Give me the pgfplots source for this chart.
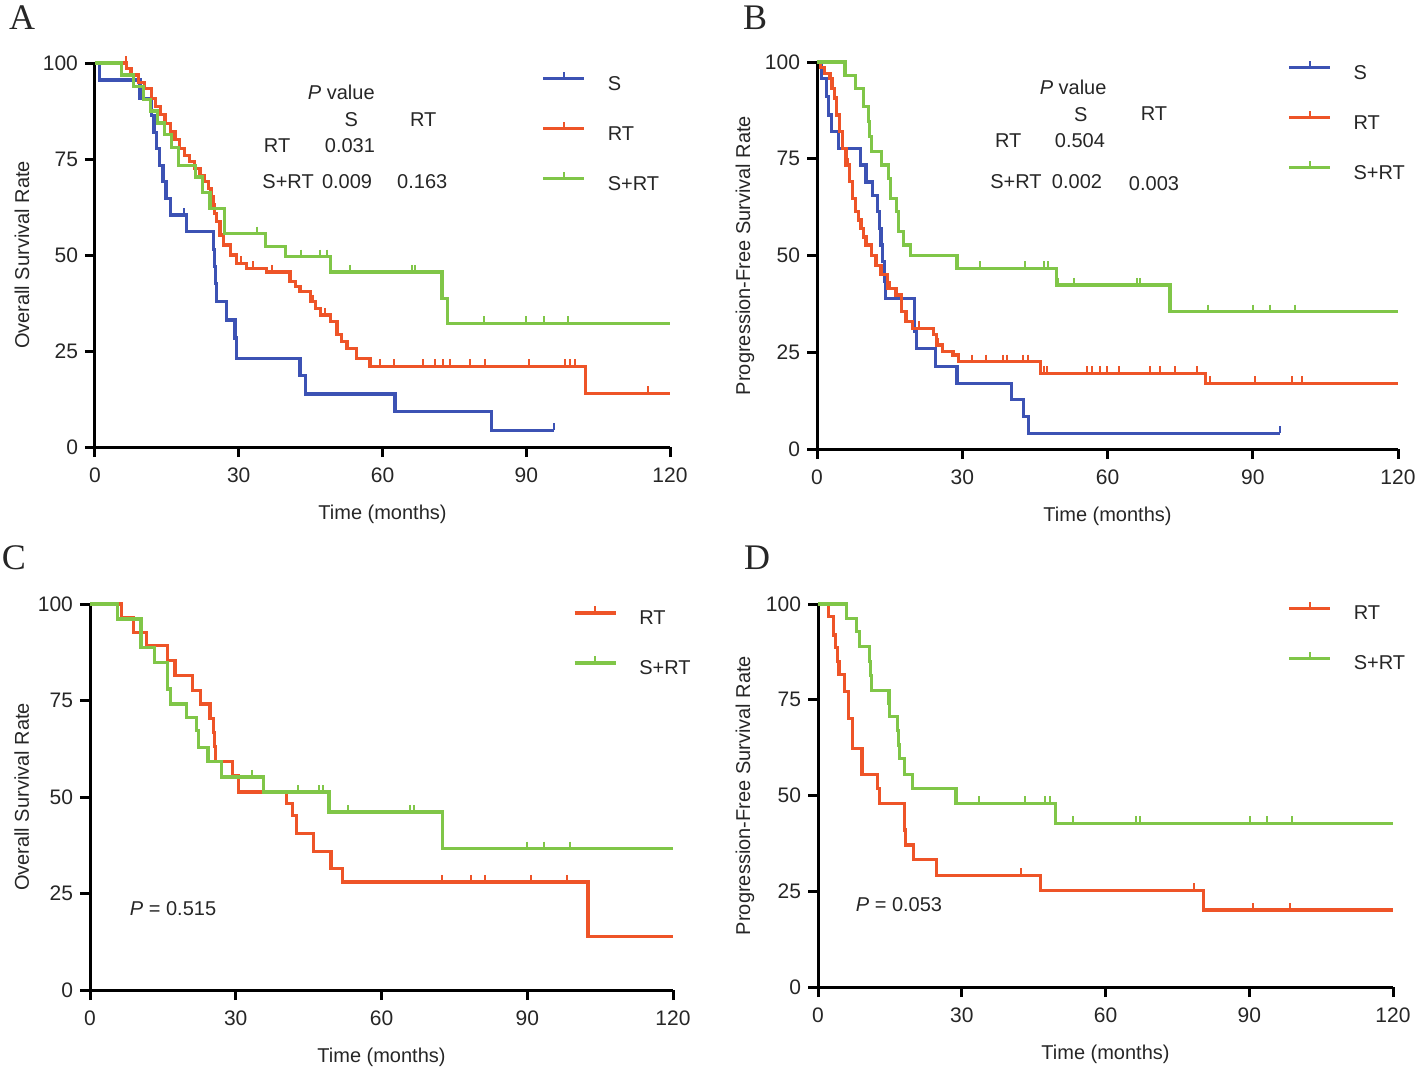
\documentclass[border=0pt]{standalone}
\usepackage{fontspec}
\setmainfont{Liberation Sans}
\newfontfamily\lettfont{Liberation Serif}
\usepackage{pgfplots}
\pgfplotsset{compat=1.18}
\definecolor{kmblue}{RGB}{60,82,180}
\definecolor{kmred}{RGB}{238,84,40}
\definecolor{kmgreen}{RGB}{128,198,72}
\definecolor{tcol}{RGB}{38,38,38}
\tikzset{ptxt/.style={font=\fontsize{10}{12}\selectfont, text=tcol, anchor=center, inner sep=0pt}}
\pgfplotsset{
  km/.style={
    scale only axis, anchor=south west,
    xmin=0, xmax=120, ymin=0, ymax=100,
    axis x line*=bottom, axis y line*=left,
    axis line style={line width=1.5pt, black},
    xtick={0,30,60,90,120}, ytick={0,25,50,75,100},
    tick style={line width=1.5pt, black},
    major tick length=5pt, tick align=outside,
    tick label style={font=\fontsize{10.5}{12}\selectfont, text=tcol},
    xticklabel style={yshift=-2pt},
    /pgf/number format/assume math mode=true,
    clip=false,
    label style={font=\fontsize{10}{12}\selectfont, text=tcol},
    xlabel={Time (months)},
    xlabel style={at={(axis description cs:0.5,0)}, anchor=center, yshift=-33.5pt},
    legend cell align=left,
    legend style={draw=none, fill=none, anchor=north west, inner sep=0pt,
      font=\fontsize{10}{12}\selectfont, text=tcol,
      row sep=12.5pt, column sep=11pt,
      nodes={inner sep=0pt, text height=7pt, text depth=3pt}},
    legend image code/.code={
      \draw[#1, line width=1.6pt] (0pt,3.6pt) -- (20.5pt,3.6pt);
      \draw[#1, line width=1pt] (10.25pt,3.6pt) -- (10.25pt,7pt);},
  },
  kmline/.style={const plot, line width=1.6pt, mark=none},
  cens/.style={only marks, mark=|, mark size=1.75pt,
    mark options={line width=1pt, yshift=1.75pt}, forget plot},
}
\begin{document}
\begin{tikzpicture}
\useasboundingbox (0,0) rectangle (709pt,-536pt);
\node[font=\fontsize{18}{20}\selectfont\lettfont, text=tcol] at (11pt,-9pt) {A};
\node[font=\fontsize{18}{20}\selectfont\lettfont, text=tcol] at (377.5pt,-9pt) {B};
\node[font=\fontsize{18}{20}\selectfont\lettfont, text=tcol] at (7pt,-279pt) {C};
\node[font=\fontsize{18}{20}\selectfont\lettfont, text=tcol] at (378.5pt,-279pt) {D};

% ---------------- Panel A ----------------
\begin{axis}[km, at={(47.5pt,-223.5pt)}, width=287.5pt, height=192pt,
  ylabel={Overall Survival Rate},
  ylabel style={at={(axis description cs:-0.127,0.5)}, anchor=center},
  legend style={at={(axis description cs:0.776,0.98)}}]
\addplot[kmblue, kmline] coordinates {(0,100) (1,95.6) (9.4,90.8) (11.8,86.4) (12.3,82) (12.8,77.8) (13.5,73.4) (14.2,69.1) (14.8,64.8) (15.7,60.4) (19.1,56.1) (24.7,51.5) (25,47) (25.2,42.5) (25.4,37.8) (27.5,33.1) (29.2,28.4) (29.5,23.1) (42.8,18.7) (44,13.8) (62.6,9.2) (82.8,4.4) (95.7,4.4)};
\addlegendentry{S}
\addplot[kmred, kmline] coordinates {(0,100) (6.6,98.5) (7.5,96.9) (9,95) (10.4,93.4) (11.8,90.8) (12.7,88.6) (13.6,86.5) (14.6,84.3) (15.7,82.1) (16.7,80) (17.7,77.8) (18.7,76) (19.8,74.3) (20.8,72.5) (21.9,70.8) (22.8,69.1) (23.7,67.4) (24.2,65.2) (24.7,63) (25,60.8) (25.4,58.7) (26.1,55.2) (26.8,52.6) (28.2,50) (29.6,47.8) (31.7,46.5) (35.8,45.6) (40.7,43) (41.8,41.7) (42.8,40.4) (44.9,37.8) (46,36.1) (47,34.4) (49.1,32.6) (50.5,29.2) (51.5,27.5) (52.6,25.7) (54.6,23.1) (57.4,21) (102.3,14) (120,14)};
\addlegendentry{RT}
\addplot[kmgreen, kmline] coordinates {(0,100) (5.6,96.9) (8,93.8) (10.1,90.6) (11.5,87.5) (13,84.4) (14.5,81.3) (16,78.1) (17.5,73.4) (20.9,70.3) (22.5,66.3) (24,62.2) (27.1,55.6) (35.5,52.2) (39.7,49.6) (49.1,45.6) (72.4,38.7) (73.5,32.2) (120,32.2)};
\addlegendentry{S+RT}
\addplot[kmblue, cens] coordinates {(18.5,60.4) (95.7,4.4)};
\addplot[kmred, cens] coordinates {(6.5,100) (30.5,47.8) (33,46.5) (37,45.6) (45.5,37.8) (48,34.4) (59.5,21) (62.4,21) (68.5,21) (71,21) (72.7,21) (74.1,21) (78.3,21) (81.4,21) (90.5,21) (98.1,21) (99.2,21) (100.2,21) (115.5,14)};
\addplot[kmgreen, cens] coordinates {(33.8,55.6) (43,49.6) (47,49.6) (48.4,49.6) (53.2,45.6) (66.1,45.6) (66.8,45.6) (81.1,32.2) (90,32.2) (93.6,32.2) (98.8,32.2)};
\node[ptxt] at (axis cs:51.4,92.4) {\textit{P} value};
\node[ptxt] at (axis cs:53.5,85.2) {S};
\node[ptxt] at (axis cs:68.5,85.2) {RT};
\node[ptxt] at (axis cs:38.0,78.6) {RT};
\node[ptxt] at (axis cs:53.2,78.6) {0.031};
\node[ptxt] at (axis cs:40.3,69.0) {S+RT};
\node[ptxt] at (axis cs:52.6,69.0) {0.009};
\node[ptxt] at (axis cs:68.3,69.0) {0.163};
\end{axis}

% ---------------- Panel B ----------------
\begin{axis}[km, at={(408.5pt,-224.5pt)}, width=290.5pt, height=193.5pt,
  ylabel={Progression-Free Survival Rate},
  ylabel style={at={(axis description cs:-0.124,0.5)}, anchor=center},
  legend style={at={(axis description cs:0.809,1.006)}}]
\addplot[kmblue, kmline] coordinates {(0,100) (1,95.7) (2,91) (2.4,86.3) (3,82) (4.4,77.7) (8.9,73.4) (10.1,69) (11.5,65.6) (12.5,61.3) (12.9,57) (13.2,52.7) (13.6,48.4) (14,43.2) (14.2,38.9) (20.2,30.3) (20.5,26) (24.4,21.3) (28.9,17) (40.2,12.7) (42.6,8.3) (43.6,4.1) (95.7,4.1)};
\addlegendentry{S}
\addplot[kmred, kmline] coordinates {(0,100) (0.8,98.6) (1.5,97.1) (2.7,95.7) (3.1,93.2) (3.6,90.7) (4.1,86.3) (4.6,82) (5.3,77.7) (6,73.4) (6.7,69.1) (7.4,64.8) (8,61.3) (8.5,59.2) (9.1,57) (9.6,54.8) (10.1,52.7) (11.2,50.1) (12.2,47.5) (13.2,45) (14.6,41.5) (16.3,39.8) (17.4,35.5) (18.4,32.9) (19.8,31.2) (24,29.5) (24.6,26.9) (26,25.1) (28.1,24.3) (29.2,22.6) (46.1,19.6) (80.2,17) (120,17)};
\addlegendentry{RT}
\addplot[kmgreen, kmline] coordinates {(0,100) (5.8,96.6) (7.9,93.2) (9.6,88.4) (10.6,84.6) (10.9,80.8) (11.2,76.8) (13.4,73.4) (14.8,70) (15.2,64.8) (16.5,61.3) (16.9,56.2) (17.9,52.7) (19.3,50.1) (28.9,46.7) (49.5,42.4) (72.9,35.5) (120,35.5)};
\addlegendentry{S+RT}
\addplot[kmblue, cens] coordinates {(95.7,4.1)};
\addplot[kmred, cens] coordinates {(6.3,73.4) (9.3,57) (15,41.5) (21,31.2) (25,26.9) (32,22.6) (35,22.6) (38.5,22.6) (39.2,22.6) (42.6,22.6) (43.6,22.6) (46.8,19.6) (47.5,19.6) (55.7,19.6) (56.7,19.6) (58.4,19.6) (59.8,19.6) (62.3,19.6) (68.8,19.6) (70.9,19.6) (74,19.6) (78.4,19.6) (81.2,17) (90.5,17) (98.1,17) (100.1,17)};
\addplot[kmgreen, cens] coordinates {(33.7,46.7) (43,46.7) (46.8,46.7) (47.8,46.7) (49.8,42.4) (53,42.4) (66,42.4) (66.7,42.4) (80.8,35.5) (90.1,35.5) (93.6,35.5) (98.8,35.5)};
\node[ptxt] at (axis cs:52.9,93.5) {\textit{P} value};
\node[ptxt] at (axis cs:54.5,86.3) {S};
\node[ptxt] at (axis cs:69.6,86.6) {RT};
\node[ptxt] at (axis cs:39.5,79.8) {RT};
\node[ptxt] at (axis cs:54.3,79.8) {0.504};
\node[ptxt] at (axis cs:41.1,69.0) {S+RT};
\node[ptxt] at (axis cs:53.7,69.0) {0.002};
\node[ptxt] at (axis cs:69.6,68.7) {0.003};
\end{axis}

% ---------------- Panel C ----------------
\begin{axis}[km, at={(45pt,-495pt)}, width=291.5pt, height=193pt,
  ylabel={Overall Survival Rate},
  ylabel style={at={(axis description cs:-0.117,0.5)}, anchor=center},
  legend style={at={(axis description cs:0.828,0.998)}}]
\addplot[kmred, kmline] coordinates {(0,100) (6.5,96.6) (8.9,92.7) (11.6,89.2) (16,85.3) (17.5,81.5) (21.1,77.6) (22.7,74.1) (24.7,70.3) (25.5,66.8) (25.7,63) (25.9,59.1) (29.4,55.6) (30.6,51.3) (40.5,48.3) (41.7,45.3) (42.5,40.5) (46,35.8) (49.6,31.5) (51.9,28) (102.5,13.8) (120,13.8)};
\addlegendentry{RT}
\addplot[kmgreen, kmline] coordinates {(0,100) (5.7,96.1) (10.5,88.8) (13.2,84.9) (16,78) (16.5,74.1) (19.9,70.7) (21.9,67.2) (22.3,62.9) (24.3,59.1) (27,55.2) (35.7,51.3) (49.2,46.1) (72.5,36.6) (120,36.6)};
\addlegendentry{S+RT}
\addplot[kmred, cens] coordinates {(72.5,28) (78.4,28) (81.2,28) (90.7,28) (98.2,28)};
\addplot[kmgreen, cens] coordinates {(33.4,55.2) (42.8,51.3) (47.2,51.3) (48,51.3) (53.1,46.1) (65.8,46.1) (66.6,46.1) (89.9,36.6) (93.4,36.6) (98.8,36.6)};
\node[ptxt] at (axis cs:17.1,21.2) {\textit{P} = 0.515};
\end{axis}

% ---------------- Panel D ----------------
\begin{axis}[km, at={(409pt,-493.5pt)}, width=287.5pt, height=191.5pt,
  ylabel={Progression-Free Survival Rate},
  ylabel style={at={(axis description cs:-0.127,0.5)}, anchor=center},
  legend style={at={(axis description cs:0.816,1.009)}}]
\addplot[kmred, kmline] coordinates {(0,100) (2.2,96.8) (3.2,91.9) (3.6,88.7) (4,85) (4.4,81.5) (5.6,77.1) (6.4,70.1) (7.2,62.3) (9.2,55.4) (12.4,51.9) (12.8,48) (18,41) (18.3,37.1) (20,33.2) (24.8,29.2) (46.4,25.3) (80.4,20.1) (120,20.1)};
\addlegendentry{RT}
\addplot[kmgreen, kmline] coordinates {(0,100) (6,96.3) (8,92.8) (8.6,88.9) (10.8,85) (11,81.3) (11.2,77.5) (14.8,74) (15,70.6) (16.6,66.9) (16.8,63.2) (17,59.7) (18,55.4) (19.8,51.9) (28.8,48) (49.6,42.7) (120,42.7)};
\addlegendentry{S+RT}
\addplot[kmred, cens] coordinates {(42.4,29.2) (78.4,25.3) (90.8,20.1) (98.4,20.1)};
\addplot[kmgreen, cens] coordinates {(33.6,48) (43.2,48) (47.4,48) (48.4,48) (53.2,42.7) (66.4,42.7) (67.2,42.7) (90.2,42.7) (93.6,42.7) (99,42.7)};
\node[ptxt] at (axis cs:16.9,21.4) {\textit{P} = 0.053};
\end{axis}
\end{tikzpicture}
\end{document}
